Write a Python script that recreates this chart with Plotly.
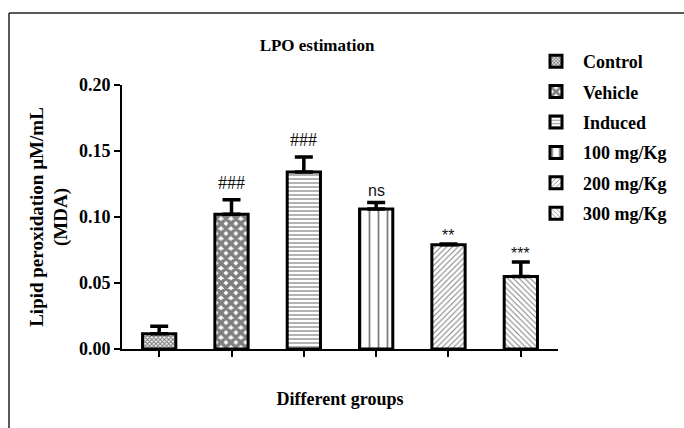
import plotly.graph_objects as go

groups = ["Control", "Vehicle", "Induced", "100 mg/Kg", "200 mg/Kg", "300 mg/Kg"]
means = [0.0115, 0.102, 0.134, 0.106, 0.079, 0.055]
sems = [0.0058, 0.011, 0.0115, 0.0050, 0.0005, 0.011]
marks = ["", "###", "###", "ns", "**", "***"]
patterns = ["x", "x", "-", "|", "/", "\\"]
pat_size = [3, 7, 4, 9, 4, 4]
pat_solid = [0.6, 0.75, 0.3, 0.2, 0.25, 0.25]

H = 264.0
W = 436.0

fig = go.Figure()
for i, g in enumerate(groups):
    fig.add_trace(go.Bar(
        x=[g], y=[means[i]], name="<b>" + g + "</b>", width=0.46,
        legendgroup=g,
        marker=dict(color="white", line=dict(color="black", width=3),
                    pattern=dict(shape=patterns[i], size=pat_size[i],
                                 solidity=pat_solid[i], fgcolor="black",
                                 bgcolor="white")),
        error_y=dict(type="data", symmetric=False, array=[sems[i]],
                     arrayminus=[0], color="black", thickness=3.5, width=9),
    ))

for i, g in enumerate(groups):
    if marks[i]:
        serif = "#" in marks[i]
        shift = 5 if serif else (1 if marks[i] == "ns" else -2)
        fig.add_annotation(
            x=g, y=means[i] + sems[i], text=marks[i], showarrow=False,
            yanchor="bottom", yshift=shift,
            font=dict(family="Liberation Serif" if serif else "Liberation Sans",
                      size=18 if serif else 16, color="#111"))

fig.update_layout(
    width=684, height=428,
    margin=dict(l=122, r=126, t=85, b=79, autoexpand=False),
    plot_bgcolor="white", paper_bgcolor="white",
    barmode="overlay",
    showlegend=True,
    title=dict(text="<b>LPO estimation</b>", x=317 / 684, xanchor="center",
               y=1 - 45 / 428, yanchor="middle",
               font=dict(family="Liberation Serif", size=17, color="black")),
    legend=dict(x=(529 - 122) / W, y=(349 - 43) / H, xanchor="left", yanchor="top",
                traceorder="grouped", tracegroupgap=4, itemwidth=44,
                font=dict(family="Liberation Serif", size=18, color="black"),
                bgcolor="rgba(0,0,0,0)"),
    font=dict(family="Liberation Serif", color="black"),
)

fig.update_xaxes(
    type="category", range=[-0.514, 5.514], showgrid=False,
    showline=True, linecolor="black", linewidth=2,
    ticks="outside", ticklen=6, tickwidth=2, tickcolor="black",
    showticklabels=False, automargin=False,
    title=dict(text="<b>Different groups</b>", standoff=36,
               font=dict(family="Liberation Serif", size=18, color="black")),
)
fig.update_yaxes(
    range=[0, 0.2], tickvals=[0, 0.05, 0.10, 0.15, 0.20],
    ticktext=["<b>0.00</b>", "<b>0.05</b>", "<b>0.10</b>", "<b>0.15</b>", "<b>0.20</b>"],
    showgrid=False, zeroline=False,
    showline=True, linecolor="black", linewidth=2,
    ticks="outside", ticklen=6, tickwidth=2, tickcolor="black",
    tickfont=dict(family="Liberation Serif", size=18, color="black"),
    automargin=False,
    title=dict(text="<b>Lipid peroxidation µM/mL<br>(MDA)</b>", standoff=6,
               font=dict(family="Liberation Serif", size=19, color="black")),
)

# partial frame (top and left edges)
fig.add_shape(type="line", xref="paper", yref="paper",
              x0=(9 - 122) / W, x1=(700 - 122) / W,
              y0=(349 - 13) / H, y1=(349 - 13) / H,
              line=dict(color="#222", width=1.5))
fig.add_shape(type="line", xref="paper", yref="paper",
              x0=(9 - 122) / W, x1=(9 - 122) / W,
              y0=(349 - 13) / H, y1=-0.4,
              line=dict(color="#222", width=1.5))

fig.write_html("out.html", config={"displayModeBar": False},
               post_script="document.body.style.margin='0';")
